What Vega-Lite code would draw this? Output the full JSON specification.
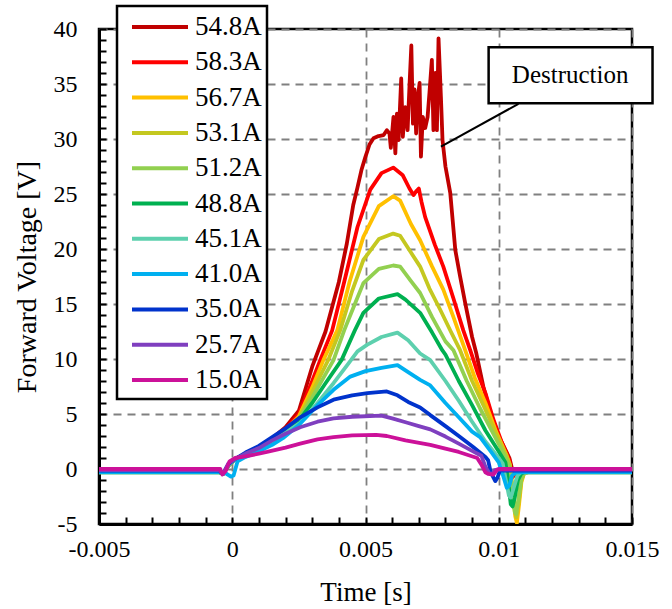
{
"$schema":"https://vega.github.io/schema/vega-lite/v6.json",
"width":533,"height":495,
"autosize":{"type":"none"},
"padding":{"left":99,"top":29,"right":40,"bottom":85},
"background":"white",
"config":{"view":{"stroke":"black","strokeWidth":2.5},"legend":{"strokeWidth":2.5},"font":"Liberation Serif"},
"datasets":{
"curves":[
{"s":"54.8A","t":-0.005,"v":-0.2},{"s":"54.8A","t":-0.0005,"v":-0.2},{"s":"54.8A","t":-0.00035,"v":-0.45},{"s":"54.8A","t":-0.00015,"v":0.3},{"s":"54.8A","t":0.0001,"v":0.9},{"s":"54.8A","t":0.0005,"v":1.4},{"s":"54.8A","t":0.001,"v":2.0},{"s":"54.8A","t":0.0015,"v":2.8},{"s":"54.8A","t":0.002,"v":3.8},{"s":"54.8A","t":0.0025,"v":5.3},{"s":"54.8A","t":0.003,"v":9.3},{"s":"54.8A","t":0.0035,"v":12.5},{"s":"54.8A","t":0.004,"v":17.0},{"s":"54.8A","t":0.0043,"v":20.5},{"s":"54.8A","t":0.00454,"v":24.0},{"s":"54.8A","t":0.0047,"v":25.6},{"s":"54.8A","t":0.00485,"v":27.2},{"s":"54.8A","t":0.005,"v":28.4},{"s":"54.8A","t":0.00515,"v":29.5},{"s":"54.8A","t":0.0053,"v":30.06},{"s":"54.8A","t":0.00549,"v":30.27},{"s":"54.8A","t":0.00568,"v":30.36},{"s":"54.8A","t":0.0058,"v":30.8},{"s":"54.8A","t":0.0059,"v":30.5},{"s":"54.8A","t":0.00595,"v":29.2},{"s":"54.8A","t":0.00605,"v":32.0},{"s":"54.8A","t":0.00612,"v":28.7},{"s":"54.8A","t":0.00618,"v":32.3},{"s":"54.8A","t":0.00624,"v":29.9},{"s":"54.8A","t":0.00634,"v":35.5},{"s":"54.8A","t":0.0064,"v":30.2},{"s":"54.8A","t":0.00649,"v":32.9},{"s":"54.8A","t":0.00658,"v":30.8},{"s":"54.8A","t":0.00665,"v":34.8},{"s":"54.8A","t":0.00672,"v":38.5},{"s":"54.8A","t":0.00678,"v":31.4},{"s":"54.8A","t":0.00684,"v":34.5},{"s":"54.8A","t":0.0069,"v":30.5},{"s":"54.8A","t":0.00695,"v":33.5},{"s":"54.8A","t":0.00703,"v":35.1},{"s":"54.8A","t":0.00708,"v":28.4},{"s":"54.8A","t":0.00715,"v":32.0},{"s":"54.8A","t":0.00724,"v":31.0},{"s":"54.8A","t":0.00733,"v":32.0},{"s":"54.8A","t":0.0074,"v":34.2},{"s":"54.8A","t":0.00749,"v":37.2},{"s":"54.8A","t":0.00755,"v":30.8},{"s":"54.8A","t":0.00762,"v":36.0},{"s":"54.8A","t":0.00768,"v":30.8},{"s":"54.8A","t":0.00774,"v":39.15},{"s":"54.8A","t":0.00783,"v":33.8},{"s":"54.8A","t":0.00789,"v":29.9},{"s":"54.8A","t":0.008,"v":27.5},{"s":"54.8A","t":0.00818,"v":25.1},{"s":"54.8A","t":0.00837,"v":19.9},{"s":"54.8A","t":0.00855,"v":17.5},{"s":"54.8A","t":0.00874,"v":15.1},{"s":"54.8A","t":0.009,"v":12.0},{"s":"54.8A","t":0.00915,"v":10.6},{"s":"54.8A","t":0.00942,"v":7.5},{"s":"54.8A","t":0.0097,"v":5.0},{"s":"54.8A","t":0.01,"v":3.0},{"s":"54.8A","t":0.0104,"v":1.0},{"s":"54.8A","t":0.01055,"v":-0.5},{"s":"54.8A","t":0.0107,"v":-0.2},{"s":"54.8A","t":0.015,"v":-0.2},
{"s":"58.3A","t":-0.005,"v":-0.2},{"s":"58.3A","t":-0.0005,"v":-0.2},{"s":"58.3A","t":-0.00035,"v":-0.45},{"s":"58.3A","t":-0.00015,"v":0.3},{"s":"58.3A","t":0.0001,"v":0.9},{"s":"58.3A","t":0.0005,"v":1.4},{"s":"58.3A","t":0.001,"v":2.0},{"s":"58.3A","t":0.0015,"v":2.7},{"s":"58.3A","t":0.002,"v":3.6},{"s":"58.3A","t":0.0025,"v":5.0},{"s":"58.3A","t":0.003,"v":8.0},{"s":"58.3A","t":0.0033,"v":9.9},{"s":"58.3A","t":0.00375,"v":12.6},{"s":"58.3A","t":0.0042,"v":17.0},{"s":"58.3A","t":0.0047,"v":22.0},{"s":"58.3A","t":0.00518,"v":25.4},{"s":"58.3A","t":0.0056,"v":26.9},{"s":"58.3A","t":0.00604,"v":27.4},{"s":"58.3A","t":0.0064,"v":26.7},{"s":"58.3A","t":0.00665,"v":25.5},{"s":"58.3A","t":0.0068,"v":24.9},{"s":"58.3A","t":0.00692,"v":25.3},{"s":"58.3A","t":0.007,"v":25.5},{"s":"58.3A","t":0.0071,"v":24.3},{"s":"58.3A","t":0.00724,"v":22.9},{"s":"58.3A","t":0.0076,"v":20.4},{"s":"58.3A","t":0.00792,"v":18.4},{"s":"58.3A","t":0.0083,"v":15.5},{"s":"58.3A","t":0.00867,"v":12.6},{"s":"58.3A","t":0.00893,"v":10.8},{"s":"58.3A","t":0.0092,"v":8.8},{"s":"58.3A","t":0.0095,"v":6.9},{"s":"58.3A","t":0.0098,"v":4.5},{"s":"58.3A","t":0.0101,"v":2.5},{"s":"58.3A","t":0.0104,"v":0.8},{"s":"58.3A","t":0.0105,"v":-0.8},{"s":"58.3A","t":0.0106,"v":-0.5},{"s":"58.3A","t":0.0108,"v":-0.2},{"s":"58.3A","t":0.015,"v":-0.2},
{"s":"56.7A","t":-0.005,"v":-0.25},{"s":"56.7A","t":-0.0005,"v":-0.25},{"s":"56.7A","t":-0.00035,"v":-0.45},{"s":"56.7A","t":-0.00015,"v":0.3},{"s":"56.7A","t":0.0001,"v":0.9},{"s":"56.7A","t":0.0005,"v":1.35},{"s":"56.7A","t":0.001,"v":1.9},{"s":"56.7A","t":0.0015,"v":2.6},{"s":"56.7A","t":0.002,"v":3.5},{"s":"56.7A","t":0.0025,"v":4.8},{"s":"56.7A","t":0.003,"v":7.4},{"s":"56.7A","t":0.00342,"v":9.9},{"s":"56.7A","t":0.00394,"v":12.6},{"s":"56.7A","t":0.0044,"v":17.0},{"s":"56.7A","t":0.00492,"v":21.1},{"s":"56.7A","t":0.0055,"v":23.9},{"s":"56.7A","t":0.00604,"v":24.8},{"s":"56.7A","t":0.0063,"v":24.4},{"s":"56.7A","t":0.0067,"v":22.3},{"s":"56.7A","t":0.00705,"v":20.8},{"s":"56.7A","t":0.0075,"v":18.4},{"s":"56.7A","t":0.00792,"v":16.3},{"s":"56.7A","t":0.0083,"v":13.8},{"s":"56.7A","t":0.00874,"v":10.8},{"s":"56.7A","t":0.0091,"v":8.3},{"s":"56.7A","t":0.0095,"v":6.0},{"s":"56.7A","t":0.0099,"v":3.4},{"s":"56.7A","t":0.0103,"v":1.2},{"s":"56.7A","t":0.01042,"v":0.4},{"s":"56.7A","t":0.01052,"v":-2.0},{"s":"56.7A","t":0.01062,"v":-4.3},{"s":"56.7A","t":0.01068,"v":-4.9},{"s":"56.7A","t":0.01075,"v":-3.5},{"s":"56.7A","t":0.01085,"v":-1.2},{"s":"56.7A","t":0.01095,"v":-0.4},{"s":"56.7A","t":0.0111,"v":-0.25},{"s":"56.7A","t":0.015,"v":-0.25},
{"s":"53.1A","t":-0.005,"v":-0.3},{"s":"53.1A","t":-0.0005,"v":-0.3},{"s":"53.1A","t":-0.00035,"v":-0.45},{"s":"53.1A","t":-0.00015,"v":0.3},{"s":"53.1A","t":0.0001,"v":0.9},{"s":"53.1A","t":0.0005,"v":1.35},{"s":"53.1A","t":0.001,"v":1.9},{"s":"53.1A","t":0.0015,"v":2.6},{"s":"53.1A","t":0.002,"v":3.4},{"s":"53.1A","t":0.0025,"v":4.6},{"s":"53.1A","t":0.003,"v":7.0},{"s":"53.1A","t":0.0036,"v":9.9},{"s":"53.1A","t":0.00405,"v":12.6},{"s":"53.1A","t":0.0045,"v":16.2},{"s":"53.1A","t":0.00492,"v":19.0},{"s":"53.1A","t":0.0055,"v":20.9},{"s":"53.1A","t":0.00604,"v":21.4},{"s":"53.1A","t":0.0063,"v":21.2},{"s":"53.1A","t":0.0067,"v":19.7},{"s":"53.1A","t":0.00705,"v":18.4},{"s":"53.1A","t":0.0074,"v":16.4},{"s":"53.1A","t":0.0078,"v":14.5},{"s":"53.1A","t":0.0082,"v":12.5},{"s":"53.1A","t":0.00855,"v":10.8},{"s":"53.1A","t":0.009,"v":8.0},{"s":"53.1A","t":0.0095,"v":5.4},{"s":"53.1A","t":0.0099,"v":3.2},{"s":"53.1A","t":0.0103,"v":1.1},{"s":"53.1A","t":0.01042,"v":0.3},{"s":"53.1A","t":0.01052,"v":-1.8},{"s":"53.1A","t":0.01062,"v":-4.0},{"s":"53.1A","t":0.01066,"v":-4.4},{"s":"53.1A","t":0.01074,"v":-3.2},{"s":"53.1A","t":0.01085,"v":-1.0},{"s":"53.1A","t":0.01095,"v":-0.4},{"s":"53.1A","t":0.0111,"v":-0.3},{"s":"53.1A","t":0.015,"v":-0.3},
{"s":"51.2A","t":-0.005,"v":-0.3},{"s":"51.2A","t":-0.0005,"v":-0.3},{"s":"51.2A","t":-0.00035,"v":-0.45},{"s":"51.2A","t":-0.00015,"v":0.3},{"s":"51.2A","t":0.0001,"v":0.9},{"s":"51.2A","t":0.0005,"v":1.35},{"s":"51.2A","t":0.001,"v":1.9},{"s":"51.2A","t":0.0015,"v":2.5},{"s":"51.2A","t":0.002,"v":3.3},{"s":"51.2A","t":0.0025,"v":4.5},{"s":"51.2A","t":0.003,"v":6.5},{"s":"51.2A","t":0.0038,"v":9.9},{"s":"51.2A","t":0.0042,"v":12.6},{"s":"51.2A","t":0.0046,"v":15.0},{"s":"51.2A","t":0.00492,"v":16.9},{"s":"51.2A","t":0.0055,"v":18.2},{"s":"51.2A","t":0.00604,"v":18.5},{"s":"51.2A","t":0.0063,"v":18.4},{"s":"51.2A","t":0.0067,"v":17.1},{"s":"51.2A","t":0.00705,"v":16.0},{"s":"51.2A","t":0.0075,"v":13.8},{"s":"51.2A","t":0.008,"v":11.6},{"s":"51.2A","t":0.0083,"v":10.8},{"s":"51.2A","t":0.0088,"v":8.0},{"s":"51.2A","t":0.0093,"v":5.5},{"s":"51.2A","t":0.0098,"v":3.2},{"s":"51.2A","t":0.01025,"v":1.1},{"s":"51.2A","t":0.0104,"v":0.2},{"s":"51.2A","t":0.0105,"v":-1.8},{"s":"51.2A","t":0.0106,"v":-3.9},{"s":"51.2A","t":0.01065,"v":-4.1},{"s":"51.2A","t":0.01072,"v":-3.0},{"s":"51.2A","t":0.01085,"v":-0.9},{"s":"51.2A","t":0.01095,"v":-0.4},{"s":"51.2A","t":0.0111,"v":-0.3},{"s":"51.2A","t":0.015,"v":-0.3},
{"s":"48.8A","t":-0.005,"v":-0.25},{"s":"48.8A","t":-0.0005,"v":-0.25},{"s":"48.8A","t":-0.00035,"v":-0.45},{"s":"48.8A","t":-0.00015,"v":0.3},{"s":"48.8A","t":0.0001,"v":0.9},{"s":"48.8A","t":0.0005,"v":1.35},{"s":"48.8A","t":0.001,"v":1.9},{"s":"48.8A","t":0.0015,"v":2.5},{"s":"48.8A","t":0.002,"v":3.3},{"s":"48.8A","t":0.0025,"v":4.4},{"s":"48.8A","t":0.003,"v":6.0},{"s":"48.8A","t":0.0035,"v":7.8},{"s":"48.8A","t":0.0041,"v":9.9},{"s":"48.8A","t":0.0046,"v":12.6},{"s":"48.8A","t":0.00492,"v":14.2},{"s":"48.8A","t":0.0055,"v":15.5},{"s":"48.8A","t":0.0062,"v":15.9},{"s":"48.8A","t":0.0065,"v":15.4},{"s":"48.8A","t":0.00705,"v":14.2},{"s":"48.8A","t":0.0075,"v":12.4},{"s":"48.8A","t":0.00788,"v":10.8},{"s":"48.8A","t":0.008,"v":10.4},{"s":"48.8A","t":0.0085,"v":8.0},{"s":"48.8A","t":0.009,"v":5.8},{"s":"48.8A","t":0.0095,"v":3.5},{"s":"48.8A","t":0.01,"v":1.6},{"s":"48.8A","t":0.01025,"v":0.6},{"s":"48.8A","t":0.01035,"v":-1.0},{"s":"48.8A","t":0.01045,"v":-3.2},{"s":"48.8A","t":0.01052,"v":-3.4},{"s":"48.8A","t":0.0106,"v":-2.6},{"s":"48.8A","t":0.01072,"v":-1.0},{"s":"48.8A","t":0.01085,"v":-0.4},{"s":"48.8A","t":0.011,"v":-0.25},{"s":"48.8A","t":0.015,"v":-0.25},
{"s":"45.1A","t":-0.005,"v":-0.25},{"s":"45.1A","t":-0.0005,"v":-0.25},{"s":"45.1A","t":-0.00035,"v":-0.45},{"s":"45.1A","t":-0.00015,"v":0.3},{"s":"45.1A","t":0.0001,"v":0.85},{"s":"45.1A","t":0.0005,"v":1.3},{"s":"45.1A","t":0.001,"v":1.8},{"s":"45.1A","t":0.0015,"v":2.5},{"s":"45.1A","t":0.002,"v":3.3},{"s":"45.1A","t":0.00255,"v":4.2},{"s":"45.1A","t":0.0032,"v":6.0},{"s":"45.1A","t":0.0038,"v":7.8},{"s":"45.1A","t":0.0043,"v":9.4},{"s":"45.1A","t":0.0047,"v":10.7},{"s":"45.1A","t":0.00507,"v":11.3},{"s":"45.1A","t":0.0056,"v":12.0},{"s":"45.1A","t":0.0062,"v":12.4},{"s":"45.1A","t":0.0066,"v":11.7},{"s":"45.1A","t":0.00705,"v":10.5},{"s":"45.1A","t":0.00743,"v":9.9},{"s":"45.1A","t":0.008,"v":8.0},{"s":"45.1A","t":0.0085,"v":6.2},{"s":"45.1A","t":0.009,"v":4.3},{"s":"45.1A","t":0.0095,"v":2.5},{"s":"45.1A","t":0.01,"v":1.0},{"s":"45.1A","t":0.01015,"v":0.5},{"s":"45.1A","t":0.01025,"v":-0.8},{"s":"45.1A","t":0.01038,"v":-2.4},{"s":"45.1A","t":0.01045,"v":-2.6},{"s":"45.1A","t":0.01055,"v":-1.8},{"s":"45.1A","t":0.0107,"v":-0.6},{"s":"45.1A","t":0.01085,"v":-0.25},{"s":"45.1A","t":0.015,"v":-0.25},
{"s":"41.0A","t":-0.005,"v":-0.3},{"s":"41.0A","t":-0.0003,"v":-0.3},{"s":"41.0A","t":-0.00005,"v":-0.7},{"s":"41.0A","t":0.00005,"v":-0.6},{"s":"41.0A","t":0.0002,"v":0.7},{"s":"41.0A","t":0.0005,"v":1.1},{"s":"41.0A","t":0.001,"v":1.6},{"s":"41.0A","t":0.0015,"v":2.2},{"s":"41.0A","t":0.0019,"v":2.8},{"s":"41.0A","t":0.0025,"v":4.0},{"s":"41.0A","t":0.0032,"v":5.8},{"s":"41.0A","t":0.0038,"v":7.2},{"s":"41.0A","t":0.00443,"v":8.4},{"s":"41.0A","t":0.005,"v":8.9},{"s":"41.0A","t":0.0056,"v":9.2},{"s":"41.0A","t":0.0062,"v":9.45},{"s":"41.0A","t":0.0066,"v":8.8},{"s":"41.0A","t":0.00705,"v":8.1},{"s":"41.0A","t":0.00743,"v":7.6},{"s":"41.0A","t":0.008,"v":6.0},{"s":"41.0A","t":0.0085,"v":4.7},{"s":"41.0A","t":0.009,"v":3.4},{"s":"41.0A","t":0.0093,"v":2.9},{"s":"41.0A","t":0.0097,"v":1.6},{"s":"41.0A","t":0.01,"v":0.6},{"s":"41.0A","t":0.01015,"v":-0.5},{"s":"41.0A","t":0.0103,"v":-1.7},{"s":"41.0A","t":0.0104,"v":-1.5},{"s":"41.0A","t":0.0105,"v":-0.6},{"s":"41.0A","t":0.01065,"v":-0.3},{"s":"41.0A","t":0.015,"v":-0.3},
{"s":"35.0A","t":-0.005,"v":-0.15},{"s":"35.0A","t":-0.0005,"v":-0.15},{"s":"35.0A","t":-0.00035,"v":-0.45},{"s":"35.0A","t":-0.00015,"v":0.4},{"s":"35.0A","t":0.0001,"v":0.9},{"s":"35.0A","t":0.0005,"v":1.5},{"s":"35.0A","t":0.001,"v":2.1},{"s":"35.0A","t":0.0015,"v":2.9},{"s":"35.0A","t":0.002,"v":3.7},{"s":"35.0A","t":0.00255,"v":4.7},{"s":"35.0A","t":0.0032,"v":5.6},{"s":"35.0A","t":0.0038,"v":6.3},{"s":"35.0A","t":0.0045,"v":6.7},{"s":"35.0A","t":0.00507,"v":6.9},{"s":"35.0A","t":0.0058,"v":7.05},{"s":"35.0A","t":0.0062,"v":6.7},{"s":"35.0A","t":0.0066,"v":6.1},{"s":"35.0A","t":0.00705,"v":5.6},{"s":"35.0A","t":0.00743,"v":4.9},{"s":"35.0A","t":0.008,"v":3.9},{"s":"35.0A","t":0.0085,"v":3.0},{"s":"35.0A","t":0.00904,"v":2.0},{"s":"35.0A","t":0.0095,"v":1.1},{"s":"35.0A","t":0.0096,"v":0.8},{"s":"35.0A","t":0.0097,"v":-0.3},{"s":"35.0A","t":0.00987,"v":-1.1},{"s":"35.0A","t":0.00995,"v":-0.8},{"s":"35.0A","t":0.01005,"v":-0.1},{"s":"35.0A","t":0.0102,"v":-0.15},{"s":"35.0A","t":0.015,"v":-0.15},
{"s":"25.7A","t":-0.005,"v":-0.1},{"s":"25.7A","t":-0.0005,"v":-0.1},{"s":"25.7A","t":-0.00035,"v":-0.45},{"s":"25.7A","t":-0.00015,"v":0.5},{"s":"25.7A","t":0.0001,"v":0.9},{"s":"25.7A","t":0.0005,"v":1.4},{"s":"25.7A","t":0.001,"v":1.9},{"s":"25.7A","t":0.0015,"v":2.6},{"s":"25.7A","t":0.002,"v":3.2},{"s":"25.7A","t":0.00255,"v":3.8},{"s":"25.7A","t":0.0032,"v":4.3},{"s":"25.7A","t":0.0038,"v":4.6},{"s":"25.7A","t":0.0045,"v":4.75},{"s":"25.7A","t":0.0056,"v":4.85},{"s":"25.7A","t":0.006,"v":4.6},{"s":"25.7A","t":0.00657,"v":4.2},{"s":"25.7A","t":0.007,"v":3.9},{"s":"25.7A","t":0.00743,"v":3.6},{"s":"25.7A","t":0.008,"v":2.95},{"s":"25.7A","t":0.0085,"v":2.3},{"s":"25.7A","t":0.009,"v":1.65},{"s":"25.7A","t":0.00935,"v":1.2},{"s":"25.7A","t":0.0095,"v":0.2},{"s":"25.7A","t":0.00965,"v":-0.4},{"s":"25.7A","t":0.00975,"v":-0.5},{"s":"25.7A","t":0.00985,"v":-0.1},{"s":"25.7A","t":0.00995,"v":-0.05},{"s":"25.7A","t":0.015,"v":-0.05},
{"s":"15.0A","t":-0.005,"v":0},{"s":"15.0A","t":-0.00045,"v":0},{"s":"15.0A","t":-0.00037,"v":-0.5},{"s":"15.0A","t":-0.00025,"v":-0.2},{"s":"15.0A","t":-0.0001,"v":0.7},{"s":"15.0A","t":0.0001,"v":1.0},{"s":"15.0A","t":0.0005,"v":1.15},{"s":"15.0A","t":0.001,"v":1.4},{"s":"15.0A","t":0.0013,"v":1.55},{"s":"15.0A","t":0.002,"v":1.95},{"s":"15.0A","t":0.00255,"v":2.3},{"s":"15.0A","t":0.0032,"v":2.7},{"s":"15.0A","t":0.0038,"v":2.9},{"s":"15.0A","t":0.0045,"v":3.05},{"s":"15.0A","t":0.0054,"v":3.1},{"s":"15.0A","t":0.0058,"v":3.0},{"s":"15.0A","t":0.0065,"v":2.6},{"s":"15.0A","t":0.00743,"v":2.2},{"s":"15.0A","t":0.008,"v":1.85},{"s":"15.0A","t":0.0085,"v":1.55},{"s":"15.0A","t":0.00919,"v":1.0},{"s":"15.0A","t":0.00935,"v":0.4},{"s":"15.0A","t":0.0095,"v":-0.3},{"s":"15.0A","t":0.0096,"v":-0.45},{"s":"15.0A","t":0.0098,"v":-0.5},{"s":"15.0A","t":0.00995,"v":-0.05},{"s":"15.0A","t":0.01,"v":0},{"s":"15.0A","t":0.015,"v":0}
],
"note":[{"label":"Destruction","bx1":0.00962,"bx2":0.01577,"by1":38.34,"by2":33.25,"tx":0.01268,"ty":35.8,"lx1":0.01074,"ly1":33.2,"lx2":0.00783,"ly2":29.3}]
},
"layer":[
{"data":{"name":"curves"},
 "mark":{"type":"line","strokeWidth":3.8,"strokeJoin":"round","clip":true},
 "encoding":{
  "x":{"field":"t","type":"quantitative","scale":{"domain":[-0.005,0.015],"nice":false,"zero":false},
   "axis":{"values":[-0.005,-0.004,-0.003,-0.002,-0.001,0,0.001,0.002,0.003,0.004,0.005,0.006,0.007,0.008,0.009,0.01,0.011,0.012,0.013,0.014,0.015],
    "tickCount":200,
    "labelExpr":"round(datum.value*1000) % 5 === 0 ? '' + round(datum.value*1000)/1000 : ''",
    "gridOpacity":{"condition":{"test":"round(datum.value*1000) % 5 === 0","value":1},"value":0},
    "grid":true,"gridColor":"#808080","gridDash":[8,6],"gridWidth":1.8,
    "tickSize":-7,"tickColor":"black","tickWidth":2,"domainColor":"black","domainWidth":3,
    "labelFont":"Liberation Serif","labelFontSize":24,"labelColor":"black","labelPadding":20,"labelOverlap":false,"labelFlush":false,
    "title":"Time [s]","titleFont":"Liberation Serif","titleFontSize":27,"titleFontWeight":"normal","titleColor":"black","titlePadding":18}},
  "y":{"field":"v","type":"quantitative","scale":{"domain":[-5,40],"nice":false,"zero":false},
   "axis":{"values":[-5,-4,-3,-2,-1,0,1,2,3,4,5,6,7,8,9,10,11,12,13,14,15,16,17,18,19,20,21,22,23,24,25,26,27,28,29,30,31,32,33,34,35,36,37,38,39,40],
    "tickCount":200,
    "labelExpr":"datum.value % 5 === 0 ? '' + datum.value : ''",
    "gridOpacity":{"condition":{"test":"datum.value % 5 === 0","value":1},"value":0},
    "grid":true,"gridColor":"#808080","gridDash":[8,6],"gridWidth":1.8,
    "tickSize":-7,"tickColor":"black","tickWidth":2,"domainColor":"black","domainWidth":3,
    "labelFont":"Liberation Serif","labelFontSize":24,"labelColor":"black","labelPadding":29,"labelOverlap":false,"labelFlush":false,
    "title":"Forward Voltage [V]","titleFont":"Liberation Serif","titleFontSize":28,"titleFontWeight":"normal","titleColor":"black","titlePadding":12}},
  "color":{"field":"s","type":"nominal",
   "scale":{"domain":["54.8A","58.3A","56.7A","53.1A","51.2A","48.8A","45.1A","41.0A","35.0A","25.7A","15.0A"],
    "range":["#C00000","#FF0000","#FFC000","#C4C820","#92D050","#00B050","#5DD0AE","#00B0F0","#0033CC","#7F3FBF","#CC1199"]},
   "legend":{"title":null,"orient":"none","legendX":18,"legendY":-23,"symbolType":"M-2,0H2","symbolStrokeWidth":4,"symbolSize":784,"symbolOffset":22,
    "labelFont":"Liberation Serif","labelFontSize":27,"labelColor":"black","labelOffset":19,"strokeColor":"black","fillColor":"white","padding":5,"rowPadding":6.3}}
 }},
{"data":{"name":"note"},"mark":{"type":"rule","color":"black","strokeWidth":2},
 "encoding":{"x":{"field":"lx1","type":"quantitative"},"y":{"field":"ly1","type":"quantitative"},"x2":{"field":"lx2"},"y2":{"field":"ly2"}}},
{"data":{"name":"note"},"mark":{"type":"rect","fill":"white","stroke":"black","strokeWidth":2.5},
 "encoding":{"x":{"field":"bx1","type":"quantitative"},"x2":{"field":"bx2"},"y":{"field":"by1","type":"quantitative"},"y2":{"field":"by2"}}},
{"data":{"name":"note"},"mark":{"type":"text","font":"Liberation Serif","fontSize":25,"color":"black","align":"center","baseline":"middle"},
 "encoding":{"x":{"field":"tx","type":"quantitative"},"y":{"field":"ty","type":"quantitative"},"text":{"field":"label"}}}
]
}
